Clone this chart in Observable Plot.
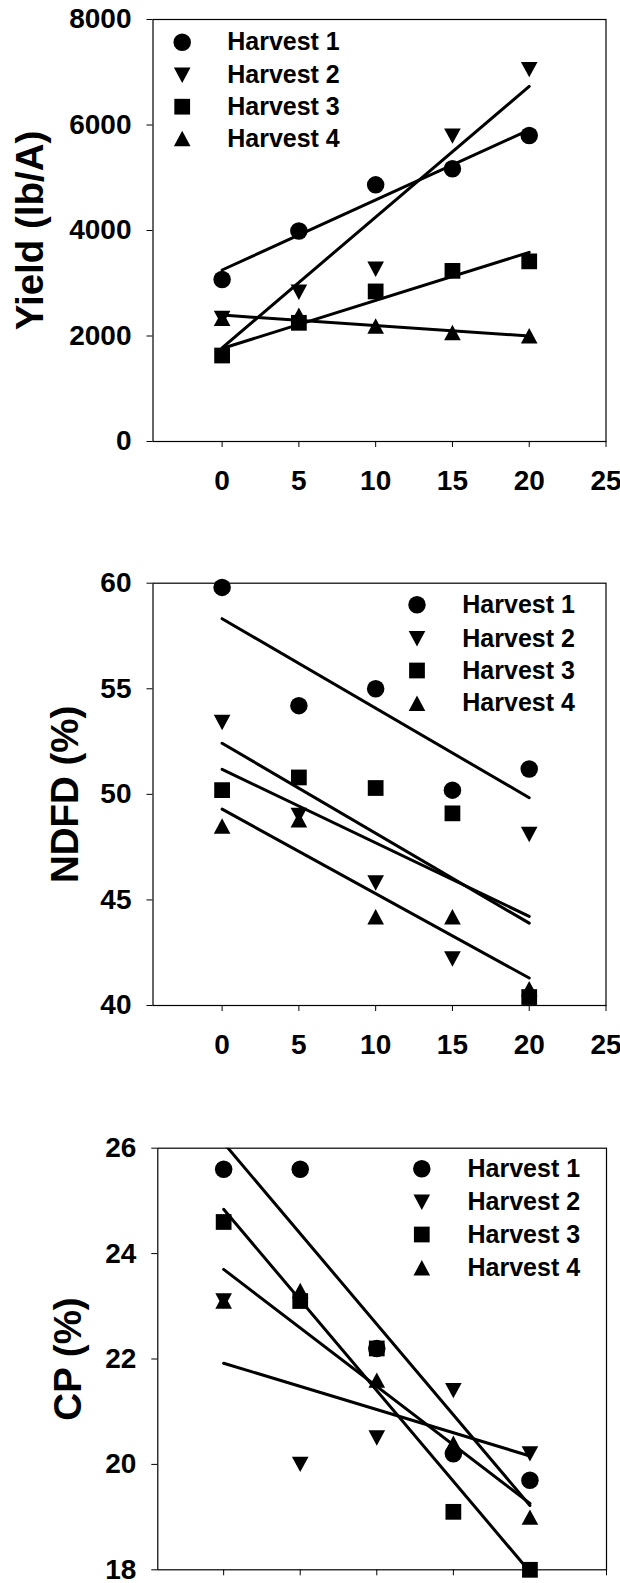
<!DOCTYPE html>
<html>
<head>
<meta charset="utf-8">
<script src="https://cdn.jsdelivr.net/npm/d3@7"></script>
<script src="https://cdn.jsdelivr.net/npm/@observablehq/plot@0.6"></script>
<style>
  html, body { margin: 0; padding: 0; background: #fff; width: 620px; height: 1583px; overflow: hidden; }
  #wrap { position: relative; width: 620px; height: 1583px; }
  .panel { position: absolute; left: 0; }
</style>
</head>
<body>
<div id="wrap"></div>
<script>
// ---- data ----
const doses = [0, 5, 10, 15, 20];
const xTicks = [0, 5, 10, 15, 20, 25];
const seriesNames = ["Harvest 1", "Harvest 2", "Harvest 3", "Harvest 4"];

const yieldTicks = [0, 2000, 4000, 6000, 8000];
const yieldH1 = [3070, 3990, 4865, 5170, 5800];
const yieldH2 = [2335, 2830, 3265, 5790, 7050];
const yieldH3 = [1630, 2250, 2845, 3235, 3415];
const yieldH4 = [2335, 2395, 2190, 2065, 2005];

const ndfdTicks = [40, 45, 50, 55, 60];
const ndfdH1 = [59.8, 54.2, 55.0, 50.2, 51.2];
const ndfdH2 = [53.4, 49.0, 45.8, 42.2, 48.1];
const ndfdH3 = [50.2, 50.8, 50.3, 49.1, 40.4];
const ndfdH4 = [48.5, 48.8, 44.2, 44.2, 40.8];

const cpTicks = [18, 20, 22, 24, 26];
const cpH1 = [25.6, 25.6, 22.2, 20.2, 19.7];
const cpH2 = [23.1, 20.0, 20.5, 21.4, 20.2];
const cpH3 = [24.6, 23.1, 22.2, 19.1, 18.0];
const cpH4 = [23.1, 23.3, 21.6, 20.4, 19.0];

// ---- symbols (filled) ----
const rad = s => Math.sqrt(s / Math.PI);
const circleSym = { draw(c, s) { const r = rad(s); c.moveTo(r, 0); c.arc(0, 0, r, 0, 2 * Math.PI); c.closePath(); } };
const triDownSym = { draw(c, s) { const r = rad(s), w = 0.95 * r, h = 0.88 * r; c.moveTo(-w, -h); c.lineTo(w, -h); c.lineTo(0, h); c.closePath(); } };
const squareSym = { draw(c, s) { const r = rad(s), h = 0.9 * r; c.rect(-h, -h, 2 * h, 2 * h); } };
const triUpSym = { draw(c, s) { const r = rad(s), w = 0.95 * r, h = 0.88 * r; c.moveTo(0, -h); c.lineTo(w, h); c.lineTo(-w, h); c.closePath(); } };
const symbolRange = [circleSym, triDownSym, squareSym, triUpSym];

const FONT = "'Liberation Sans', Arial, Helvetica, sans-serif";

function toRows(valueLists) {
  return seriesNames.flatMap((s, i) => doses.map((d, j) => ({ dose: d, value: valueLists[i][j], series: s })));
}

function panel(cfg) {
  const rows = toRows(cfg.values);
  const legendMarks = seriesNames.flatMap((s, i) => [
    Plot.dot([s], { x: null, y: null, frameAnchor: "top-left", dx: cfg.legendDx, dy: cfg.legendDy[i],
      symbol: d => d, r: 8.75, fill: "black", stroke: "none" }),
    Plot.text([s], { x: null, y: null, frameAnchor: "top-left", dx: cfg.textDx, dy: cfg.legendDy[i],
      text: d => d, textAnchor: "start", lineAnchor: "middle", fontSize: 25, fontWeight: "bold", fill: "black" })
  ]);
  const svg = Plot.plot({
    width: 620,
    height: cfg.height,
    marginTop: cfg.mt, marginBottom: cfg.mb, marginLeft: cfg.ml, marginRight: cfg.mr,
    style: { fontFamily: FONT, fontSize: "28px", fontWeight: "bold", color: "black", background: "white", overflow: "visible" },
    x: { domain: cfg.xDomain, ticks: xTicks, tickSize: 6, tickPadding: 23,
         tickFormat: cfg.showXLabels ? (d => String(d)) : (() => ""), label: null },
    y: { domain: cfg.yDomain, ticks: cfg.yTicks, tickSize: 6, tickPadding: 15.5, tickFormat: d => String(d), label: null },
    symbol: { domain: seriesNames, range: symbolRange },
    marks: [
      Plot.frame({ stroke: "black", strokeWidth: 1.2 }),
      Plot.linearRegressionY(rows, { x: "dose", y: "value", z: "series", ci: 0, stroke: "black", strokeWidth: 3, clip: true }),
      Plot.dot(rows, { x: "dose", y: "value", symbol: "series", r: 8.75, fill: "black", stroke: "none" }),
      ...legendMarks,
      Plot.text([cfg.yLabel], { x: null, y: null, frameAnchor: "left", text: d => d, rotate: -90, dx: cfg.labelDx,
        textAnchor: "middle", lineAnchor: "middle", fontSize: 38.5, fontWeight: "bold", fill: "black" })
    ]
  });
  const div = document.createElement("div");
  div.className = "panel";
  div.style.top = cfg.top + "px";
  div.appendChild(svg);
  document.getElementById("wrap").appendChild(div);
}

panel({
  top: 0, height: 500, mt: 19, mb: 59, ml: 152.5, mr: 14.5,
  xDomain: [-4.5, 25], yDomain: [0, 8000], yTicks: yieldTicks,
  values: [yieldH1, yieldH2, yieldH3, yieldH4],
  yLabel: "Yield (lb/A)", labelDx: -122.5,
  legendDx: 29.2, textDx: 74.2, legendDy: [22.7, 55.7, 87.2, 119],
  showXLabels: true
});

panel({
  top: 500, height: 565, mt: 82.7, mb: 60, ml: 152.5, mr: 14.5,
  xDomain: [-4.5, 25], yDomain: [40, 60], yTicks: ndfdTicks,
  values: [ndfdH1, ndfdH2, ndfdH3, ndfdH4],
  yLabel: "NDFD (%)", labelDx: -87,
  legendDx: 264, textDx: 309.3, legendDy: [21.6, 55.6, 87.3, 120],
  showXLabels: true
});

panel({
  top: 1065, height: 518, mt: 82.7, mb: 13.7, ml: 157.3, mr: 14,
  xDomain: [-4.3, 25], yDomain: [18, 26], yTicks: cpTicks,
  values: [cpH1, cpH2, cpH3, cpH4],
  yLabel: "CP (%)", labelDx: -88.7,
  legendDx: 264, textDx: 309.7, legendDy: [20.6, 54, 86.3, 119.6],
  showXLabels: false
});
</script>
</body>
</html>
